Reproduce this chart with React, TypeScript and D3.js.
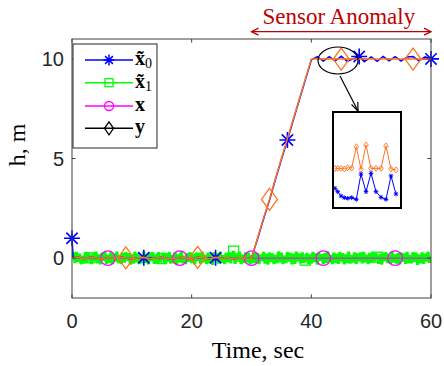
import React from 'react';
import * as d3 from 'd3';

// ---------- data ----------
const xTicks = [0, 20, 40, 60];
const yTicks = [0, 5, 10];

// x~1 estimate (green), sampled every 0.25 s from 0 to 60
const x1Values = [
  0.00, 0.28, -0.25, 0.31, -0.18, 0.22, -0.30, 0.12, -0.27, 0.29, -0.21, 0.26, 0.02, -0.29, 0.24, -0.15, 0.32, -0.26, 0.19, -0.31,
  0.27, -0.12, 0.30, -0.28, 0.16, -0.24, 0.29, -0.30, 0.21, -0.17, 0.33, -0.25, 0.14, -0.29, 0.26, -0.22, 0.30, -0.11, 0.25, -0.32,
  0.18, -0.27, 0.31, -0.20, 0.24, -0.29, 0.13, -0.26, 0.32, -0.23, 0.20, -0.31, 0.27, -0.14, 0.29, -0.28, 0.17, -0.25, 0.30, -0.19,
  -0.02, 0.26, -0.30, 0.22, -0.16, 0.31, -0.27, 0.15, -0.24, 0.28, -0.32, 0.19, -0.21, 0.33, -0.26, 0.12, -0.29, 0.25, -0.18, 0.30,
  -0.24, 0.21, -0.31, 0.28, -0.13, 0.26, -0.28, 0.32, -0.20, 0.16, -0.30, 0.27, -0.25, 0.18, -0.33, 0.29, -0.15, 0.24, -0.27, 0.31,
  -0.22, 0.14, -0.29, 0.26, -0.19, 0.30, -0.25, 0.20, 0.35, -0.28, 0.23, -0.16, 0.32, -0.30, 0.17, -0.24, 0.29, -0.21, 0.27, -0.31,
  0.13, -0.26, 0.30, -0.23, 0.25, -0.29, 0.19, -0.14, 0.31, -0.27, 0.22, -0.32, 0.28, -0.18, 0.24, -0.30, 0.16, -0.25, 0.33, -0.20,
  0.27, -0.29, 0.12, -0.24, 0.30, -0.17, 0.26, -0.31, 0.21, -0.28, 0.32, -0.15, 0.23, -0.26, 0.29, -0.22, -0.10, 0.25, -0.30, 0.18,
  -0.27, 0.31, -0.19, 0.24, -0.32, 0.28, -0.13, 0.20, -0.29, 0.26, -0.23, 0.33, -0.18, 0.15, -0.30, 0.27, -0.25, 0.22, -0.28, 0.30,
  -0.16, 0.25, -0.31, 0.19, -0.24, 0.32, -0.27, 0.14, -0.21, 0.29, -0.30, 0.23, -0.15, 0.28, -0.26, 0.31, -0.20, 0.17, -0.29, 0.26,
  -0.23, 0.30, -0.18, 0.24, 0.05, -0.28, 0.21, -0.32, 0.27, -0.14, 0.29, -0.25, 0.16, -0.30, 0.33, -0.22, 0.19, -0.27, 0.25, -0.31,
  0.28, -0.17, 0.23, -0.29, 0.31, -0.24, 0.15, -0.26, 0.30, -0.20, 0.27, -0.33, 0.18, -0.25, 0.29, -0.28, 0.22, -0.16, 0.32, -0.23,
  0.10,
];

// y measurement (orange), sampled every 1 s from 0 to 60
const yValues = [
  0.00, 0.04, -0.03, 0.05, 0.02, -0.04, 0.03, -0.02, 0.06, 0.01, -0.05, 0.02, 0.04, -0.03, 0.01, 0.05, -0.02, -0.04, 0.03, 0.02,
  -0.05, 0.04, 0.01, -0.03, 0.05, -0.01, 0.03, -0.04, 0.02, 0.01,
  0.00, 1.00, 2.00, 2.95, 4.00, 5.00, 6.00, 7.00, 8.00, 9.00, 10.00,
  9.99, 10.01, 10.00, 10.01, 9.99, 10.01, 10.00, 10.00, 10.01, 9.99, 10.00, 10.00, 10.01, 9.99, 10.00, 10.01, 9.99, 10.00, 10.00, 10.00,
];

// x~0 estimate (blue): times and values
const x0Times = [0, 0.2, ...d3.range(1, 61)];
const x0Values = [
  1.00, 0.02,
  0.04, -0.03, 0.05, 0.02, -0.04, 0.03, -0.02, 0.06, 0.01, -0.05, 0.02, 0.02, -0.03, 0.01, 0.05, -0.02, -0.04, 0.03, 0.02,
  -0.05, 0.04, 0.01, -0.03, 0.02, -0.01, 0.03, -0.04, 0.02, 0.01,
  0.02, 0.95, 1.95, 2.90, 3.95, 4.95, 5.93, 6.95, 7.95, 8.95, 9.95,
  10.12, 9.89, 10.11, 9.90, 10.13, 9.88, 10.00, 10.12, 9.89, 10.10, 9.88, 10.12, 9.90, 10.11, 9.89, 10.10, 10.12, 9.90, 10.10, 10.00,
];

// x true state (magenta), every 6 s
const xTrueTimes = d3.range(0, 61, 6);
const xTrueValues = [0, 0, 0, 0, 0, 0, 0, 0, 0, 0, 0];

// marker times
const starTimes = [0, 12, 24, 36, 48, 60];
const squareTimes = [3, 15, 27, 39, 51];
const circleTimes = [6, 18, 30, 42, 54];
const diamondTimes = [9, 21, 33, 45, 57];

// inset (zoom of the plateau)
const insetTimes = [0, 0.27, 0.6, 0.93, 1.27, 1.67, 2.13, 2.6, 3.1, 3.6, 4.1, 4.6, 5.1, 5.6, 6.1];
const insetY = [9.93, 9.93, 9.93, 9.925, 9.935, 9.933, 10.11, 9.922, 10.125, 9.93, 9.93, 9.93, 10.117, 9.925, 9.917];
const insetX0 = [9.764, 9.736, 9.70, 9.686, 9.681, 9.686, 9.672, 9.883, 9.736, 9.889, 9.736, 9.689, 9.672, 9.867, 9.717];

const legendLabels = ['x\u0303', 'x\u0303', 'x', 'y'];
const legendSubs = ['0', '1', '', ''];

// ---------- styles ----------
const BLUE = '#0000FF';
const GREEN = '#00FF00';
const MAGENTA = '#FF00FF';
const ORANGE = '#FF7420';
const AXIS = '#404040';
const RED = '#C00000';
const SANS = '"Liberation Sans", Arial, Helvetica, sans-serif';
const SERIF = '"Liberation Serif", "Times New Roman", serif';

const W = 444, H = 366;
const L = 72, R = 431, T = 39, B = 298;

const starPath = (r: number) => {
  const a = r * 0.7071;
  return `M${-r},0H${r}M0,${-r}V${r}M${-a},${-a}L${a},${a}M${-a},${a}L${a},${-a}`;
};
const diamondPath = (w: number, h: number) => `M0,${-h}L${w},0L0,${h}L${-w},0Z`;

export default function App() {
  const xs = d3.scaleLinear().domain([0, 60]).range([L, R]);
  const ys = d3.scaleLinear().domain([-2, 11]).range([B, T]);

  const x1Times = d3.range(0, 60.001, 0.25);
  const yTimes = d3.range(0, 61, 1);

  const line = d3.line<[number, number]>().x(d => xs(d[0])).y(d => ys(d[1]));
  const pts = (t: number[], v: number[]) => t.map((tt, i) => [tt, v[i]] as [number, number]);
  const at = (t: number[], v: number[], q: number) => {
    let best = 0;
    t.forEach((tt, i) => { if (Math.abs(tt - q) < Math.abs(t[best] - q)) best = i; });
    return v[best];
  };

  const x1Pts = pts(x1Times, x1Values);
  const x0Pts = pts(x0Times, x0Values);
  const xTruePts = pts(xTrueTimes, xTrueValues);
  const yPts = pts(yTimes, yValues);

  // inset scales
  const IL = 333, IR = 401, IT = 112, IB = 208;
  const ixs = d3.scaleLinear().domain([0, 6.1]).range([335, 396]);
  const iys = d3.scaleLinear().domain([9.6, 10.4]).range([IB, IT]);
  const iline = d3.line<[number, number]>().x(d => ixs(d[0])).y(d => iys(d[1]));

  // legend geometry
  const legRows = [60, 82.7, 106, 128.3];
  const legColors = [BLUE, GREEN, MAGENTA, '#000000'];

  const legendMarker = (i: number, cx: number, cy: number) => {
    const c = legColors[i];
    if (i === 0) return <path d={starPath(5.5)} transform={`translate(${cx},${cy})`} stroke={c} strokeWidth={1.5} fill="none" />;
    if (i === 1) return <rect x={cx - 4} y={cy - 4} width={8} height={8} stroke={c} strokeWidth={1.3} fill="none" />;
    if (i === 2) return <circle cx={cx} cy={cy} r={4.5} stroke={c} strokeWidth={1.3} fill="none" />;
    return <path d={diamondPath(4.5, 6.5)} transform={`translate(${cx},${cy})`} stroke={c} strokeWidth={1.3} fill="none" />;
  };

  const annY = 31.7;
  const ax1 = xs(30), ax2 = xs(60);

  return (
    <svg width={W} height={H} style={{ position: 'absolute', left: 0, top: 0, background: '#fff' }}>
      <defs>
        <clipPath id="plotClip"><rect x={L} y={T} width={R - L} height={B - T} /></clipPath>
        <clipPath id="insetClip"><rect x={IL} y={IT} width={IR - IL} height={IB - IT} /></clipPath>
      </defs>
      <rect x={0} y={0} width={W} height={H} fill="#fff" />

      {/* series lines */}
      <g clipPath="url(#plotClip)">
        <path d={line(x1Pts) || ''} stroke={GREEN} strokeWidth={3} strokeLinejoin="bevel" fill="none" />
      </g>
      {squareTimes.map((t, i) => (
        <rect key={'sq' + i} x={xs(t) - 5} y={ys(at(x1Times, x1Values, t)) - 5} width={10} height={10} stroke={GREEN} strokeWidth={1.3} fill="none" />
      ))}
      <g clipPath="url(#plotClip)">
        <path d={line(x0Pts) || ''} stroke={BLUE} strokeWidth={1.5} fill="none" />
      </g>
      {starTimes.map((t, i) => (
        <path key={'st' + i} d={starPath(8)} transform={`translate(${xs(t)},${ys(at(x0Times, x0Values, t))})`} stroke={BLUE} strokeWidth={1.6} fill="none" />
      ))}
      <g clipPath="url(#plotClip)">
        <path d={line(xTruePts) || ''} stroke={MAGENTA} strokeWidth={1} fill="none" />
      </g>
      {circleTimes.map((t, i) => (
        <circle key={'ci' + i} cx={xs(t)} cy={ys(at(xTrueTimes, xTrueValues, t))} r={7.3} stroke={MAGENTA} strokeWidth={1.3} fill="none" />
      ))}
      <g clipPath="url(#plotClip)">
        <path d={line(yPts) || ''} stroke={ORANGE} strokeWidth={1.5} fill="none" />
      </g>
      {diamondTimes.map((t, i) => (
        <path key={'di' + i} d={diamondPath(8, 11)} transform={`translate(${xs(t)},${ys(at(yTimes, yValues, t))})`} stroke={ORANGE} strokeWidth={1.3} fill="none" />
      ))}

      {/* axes box */}
      <rect x={L} y={T} width={R - L} height={B - T} fill="none" stroke={AXIS} strokeWidth={1} />
      {xTicks.map((t, i) => (
        <g key={'xt' + i}>
          <line x1={xs(t)} x2={xs(t)} y1={B} y2={B - 3.6} stroke={AXIS} />
          <line x1={xs(t)} x2={xs(t)} y1={T} y2={T + 3.6} stroke={AXIS} />
          <text x={xs(t)} y={328} textAnchor="middle" fontFamily={SANS} fontSize={20} fill="#262626">{t}</text>
        </g>
      ))}
      {yTicks.map((t, i) => (
        <g key={'yt' + i}>
          <line x1={L} x2={L + 3.6} y1={ys(t)} y2={ys(t)} stroke={AXIS} />
          <line x1={R} x2={R - 3.6} y1={ys(t)} y2={ys(t)} stroke={AXIS} />
          <text x={64} y={ys(t) + 7} textAnchor="end" fontFamily={SANS} fontSize={20} fill="#262626">{t}</text>
        </g>
      ))}
      <text x={258} y={358} textAnchor="middle" fontFamily={SERIF} fontSize={24} fill="#000">Time, sec</text>
      <text transform={`translate(25,145) rotate(-90)`} textAnchor="middle" fontFamily={SERIF} fontSize={24} fill="#000">h, m</text>

      {/* legend */}
      <rect x={73} y={44} width={84} height={104} fill="#fff" stroke="#262626" strokeWidth={1} />
      {legRows.map((yy, i) => (
        <g key={'lg' + i}>
          <line x1={85} x2={133} y1={yy} y2={yy} stroke={legColors[i]} strokeWidth={1.5} />
          {legendMarker(i, 109, yy)}
          <text x={135} y={yy + 5} fontFamily={SERIF} fontSize={20} fill="#000">
            <tspan fontWeight="bold">{legendLabels[i]}</tspan>
            {legendSubs[i] ? <tspan fontSize={14} dy={3}>{legendSubs[i]}</tspan> : null}
          </text>
        </g>
      ))}

      {/* sensor anomaly annotation */}
      <text x={xs(44.6)} y={24} textAnchor="middle" fontFamily={SERIF} fontSize={23} fill={RED}>Sensor Anomaly</text>
      <line x1={ax1} x2={ax2} y1={annY} y2={annY} stroke={RED} strokeWidth={1.3} />
      <path d={`M${ax1 + 7},${annY - 3.5}L${ax1},${annY}L${ax1 + 7},${annY + 3.5}`} stroke={RED} strokeWidth={1.3} fill="none" />
      <path d={`M${ax2 - 7},${annY - 3.5}L${ax2},${annY}L${ax2 - 7},${annY + 3.5}`} stroke={RED} strokeWidth={1.3} fill="none" />

      {/* ellipse + arrow */}
      <ellipse cx={338} cy={60.5} rx={20} ry={13.5} fill="none" stroke="#000" strokeWidth={1.2} />
      <line x1={340} y1={76} x2={358} y2={111} stroke="#000" strokeWidth={1.2} />
      <path d="M351.5,104.5L358,111L357.8,102" stroke="#000" strokeWidth={1.2} fill="none" />

      {/* inset */}
      <rect x={IL} y={IT} width={IR - IL} height={IB - IT} fill="#fff" />
      <g clipPath="url(#insetClip)">
        <path d={iline(pts(insetTimes, insetY)) || ''} stroke={ORANGE} strokeWidth={1} fill="none" />
        {insetTimes.map((t, i) => (
          <path key={'iy' + i} d={diamondPath(2.3, 3)} transform={`translate(${ixs(t)},${iys(insetY[i])})`} stroke={ORANGE} strokeWidth={0.9} fill="none" />
        ))}
        <path d={iline(pts(insetTimes, insetX0)) || ''} stroke={BLUE} strokeWidth={1} fill="none" />
        {insetTimes.map((t, i) => (
          <path key={'ix' + i} d={starPath(2.3)} transform={`translate(${ixs(t)},${iys(insetX0[i])})`} stroke={BLUE} strokeWidth={1} fill="none" />
        ))}
      </g>
      <rect x={IL} y={IT} width={IR - IL} height={IB - IT} fill="none" stroke="#000" strokeWidth={2} />
    </svg>
  );
}
